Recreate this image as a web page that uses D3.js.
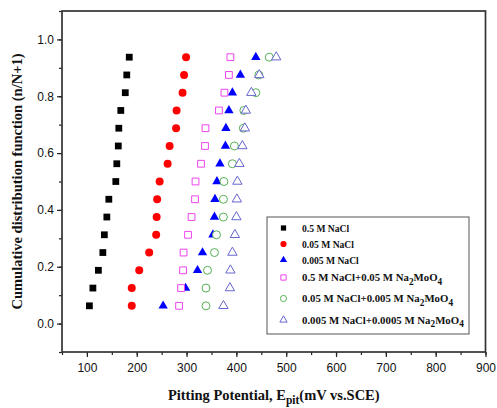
<!DOCTYPE html>
<html>
<head>
<meta charset="utf-8">
<script src="https://cdn.jsdelivr.net/npm/d3@7"></script>
<style>
  body { margin: 0; background: #fff; }
  svg { display: block; }
</style>
</head>
<body>
<svg></svg>
<script>
// cumulative probability n/(N+1), N = 15
let cdf = [0.0625, 0.125, 0.1875, 0.25, 0.3125, 0.375, 0.4375, 0.5,
           0.5625, 0.625, 0.6875, 0.75, 0.8125, 0.875, 0.9375]

let nacl05 = [105, 112, 123, 132, 135, 140, 144, 158, 160, 163, 164, 168, 177, 180, 185]
let nacl005 = [190, 190, 205, 225, 239, 240, 241, 246, 262, 266, 279, 280, 292, 295, 299]
let nacl0005 = [253, 298, 322, 332, 353, 356, 357, 361, 367, 378, 379, 385, 392, 408, 439]
let nacl05Mo = [285, 289, 293, 294, 303, 310, 317, 318, 329, 337, 338, 365, 376, 385, 388]
let nacl005Mo = [339, 339, 342, 356, 360, 374, 374, 375, 392, 396, 414, 415, 439, 445, 466]
let nacl0005Mo = [374, 387, 388, 392, 397, 400, 401, 402, 406, 412, 417, 419, 430, 446, 480]

let xTicks = [100, 200, 300, 400, 500, 600, 700, 800, 900]
let yTicks = [0.0, 0.2, 0.4, 0.6, 0.8, 1.0]

let series = [
  {name: ['0.5 M NaCl'], values: nacl05, shape: d3.symbolSquare, color: '#000', open: false},
  {name: ['0.05 M NaCl'], values: nacl005, shape: d3.symbolCircle, color: '#ff0000', open: false},
  {name: ['0.005 M NaCl'], values: nacl0005, shape: d3.symbolTriangle, color: '#0000ff', open: false},
  {name: ['0.5 M NaCl+0.05 M Na', '2', 'MoO', '4'], values: nacl05Mo, shape: d3.symbolSquare, color: '#ee44ee', open: true},
  {name: ['0.05 M NaCl+0.005 M Na', '2', 'MoO', '4'], values: nacl005Mo, shape: d3.symbolCircle, color: '#55b055', open: true},
  {name: ['0.005 M NaCl+0.0005 M Na', '2', 'MoO', '4'], values: nacl0005Mo, shape: d3.symbolTriangle, color: '#6666cc', open: true}
]

let width = 497
let height = 408
let mLeft = 62, mRight = 485.5, mTop = 11, mBottom = 352

let serif = '"Liberation Serif", "Times New Roman", serif'
let sans = '"Liberation Sans", Arial, sans-serif'

let svg = d3.select('svg').attr('width', width).attr('height', height)

let xScale = d3.scaleLinear().domain([50, 900]).range([mLeft, mRight])
let yScale = d3.scaleLinear().domain([-0.1, 1.1]).range([mBottom, mTop])

let symSize = (shape) => shape === d3.symbolSquare ? 46 : shape === d3.symbolCircle ? 50 : 38

let makeAxes = () => {
  let minorX = d3.range(50, 901, 50)
  let minorY = d3.range(-0.1, 1.11, 0.1)

  let gx = svg.append('g').attr('transform', 'translate(0,' + mBottom + ')')
  gx.call(d3.axisBottom(xScale).tickValues(minorX).tickSize(3).tickFormat(''))
  gx.call(g => g.select('.domain').remove())
  let gx2 = svg.append('g').attr('transform', 'translate(0,' + mBottom + ')')
    .call(d3.axisBottom(xScale).tickValues(xTicks).tickSize(5).tickPadding(6).tickFormat(d3.format('d')))
  gx2.select('.domain').remove()
  gx2.selectAll('text').attr('font-family', sans).attr('font-size', 12).attr('fill', '#111')

  let gy = svg.append('g').attr('transform', 'translate(' + mLeft + ',0)')
  gy.call(d3.axisLeft(yScale).tickValues(minorY).tickSize(3).tickFormat(''))
  gy.call(g => g.select('.domain').remove())
  let gy2 = svg.append('g').attr('transform', 'translate(' + mLeft + ',0)')
    .call(d3.axisLeft(yScale).tickValues(yTicks).tickSize(5).tickPadding(3).tickFormat(d3.format('.1f')))
  gy2.select('.domain').remove()
  gy2.selectAll('text').attr('font-family', sans).attr('font-size', 12).attr('fill', '#111')

  svg.selectAll('.tick line').attr('stroke', '#222').attr('stroke-width', 1.2)

  svg.append('rect')
     .attr('x', mLeft).attr('y', mTop)
     .attr('width', mRight - mLeft).attr('height', mBottom - mTop)
     .attr('fill', 'none').attr('stroke', '#333').attr('stroke-width', 1.7)
}

let makePoints = () => {
  series.forEach(s => {
    svg.append('g').selectAll('path')
       .data(s.values.map((v, i) => [v, cdf[i]]))
       .enter()
       .append('path')
       .attr('d', d3.symbol().type(s.shape).size(symSize(s.shape)))
       .attr('transform', d => 'translate(' + xScale(d[0]) + ',' + yScale(d[1]) + ')')
       .attr('fill', s.open ? '#fff' : s.color)
       .attr('stroke', s.open ? s.color : 'none')
       .attr('stroke-width', 1)
  })
}

let makeLegend = () => {
  let lx = 267, ly = 217
  let rows = [11, 27, 43, 60.5, 81.5, 103]
  svg.append('rect')
     .attr('x', lx).attr('y', ly).attr('width', 202).attr('height', 117)
     .attr('fill', '#fff').attr('stroke', '#555').attr('stroke-width', 1)

  series.forEach((s, i) => {
    let cy = ly + rows[i]
    // the rows with subscripts are set a little larger in the original
    let fs = s.name.length > 1 ? 10.8 : 9.6
    svg.append('path')
       .attr('d', d3.symbol().type(s.shape).size(symSize(s.shape) * 0.6))
       .attr('transform', 'translate(' + (lx + 16.5) + ',' + cy + ')')
       .attr('fill', s.open ? '#fff' : s.color)
       .attr('stroke', s.open ? s.color : 'none')
       .attr('stroke-width', 1)
    let t = svg.append('text')
       .attr('x', lx + 35).attr('y', cy + 3.5)
       .attr('font-family', serif).attr('font-weight', 'bold').attr('font-size', fs)
       .attr('fill', '#111')
    s.name.forEach((part, j) => {
      let sub = j % 2 === 1
      t.append('tspan')
       .attr('dy', sub ? 3.5 : (j > 0 ? -3.5 : 0))
       .attr('font-size', sub ? fs - 1.5 : fs)
       .text(part)
    })
  })
}

let makeTitles = () => {
  let xt = svg.append('text')
     .attr('x', (mLeft + mRight) / 2).attr('y', 400)
     .attr('text-anchor', 'middle')
     .attr('font-family', serif).attr('font-weight', 'bold').attr('font-size', 14.5)
     .attr('fill', '#111')
  xt.append('tspan').text('Pitting Potential, E')
  xt.append('tspan').attr('dy', 4).attr('font-size', 11.5).text('pit')
  xt.append('tspan').attr('dy', -4).text('(mV vs.SCE)')

  svg.append('text')
     .attr('transform', 'translate(22,' + ((mTop + mBottom) / 2) + ') rotate(-90)')
     .attr('text-anchor', 'middle')
     .attr('font-family', serif).attr('font-weight', 'bold').attr('font-size', 14.5)
     .attr('fill', '#111')
     .text('Cumulative distribution function (n/N+1)')
}

makeAxes()
makePoints()
makeLegend()
makeTitles()
</script>
</body>
</html>
